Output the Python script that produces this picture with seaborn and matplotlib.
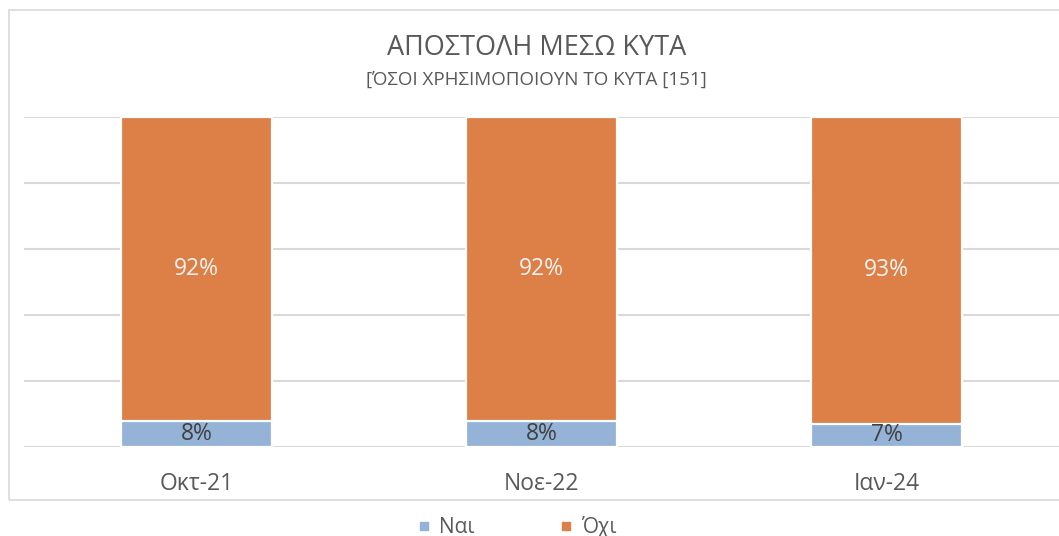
import matplotlib
matplotlib.use("Agg")
import matplotlib.pyplot as plt
import seaborn as sns
import pandas as pd
from matplotlib.patches import Rectangle
from matplotlib.lines import Line2D

categories = ["Οκτ-21", "Νοε-22", "Ιαν-24"]
nai = [8, 8, 7]
oxi = [92, 92, 93]
series_names = ["Ναι", "Όχι"]
title = "ΑΠΟΣΤΟΛΗ ΜΕΣΩ ΚΥΤΑ"
subtitle = "[ΌΣΟΙ ΧΡΗΣΙΜΟΠΟΙΟΥΝ ΤΟ ΚΥΤΑ [151]"

BLUE = "#95B3D7"
ORANGE = "#DD8047"
TXT = "#595959"
GRID = "#D9D9D9"

sns.set_theme(style="white")
plt.rcParams["font.family"] = ["Open Sans", "DejaVu Sans"]

df = pd.DataFrame({"cat": categories, "nai": nai, "oxi": oxi})
df["total"] = df["nai"] + df["oxi"]

W, H = 1059, 536
fig = plt.figure(figsize=(W / 100, H / 100), dpi=100)
ax = fig.add_axes([24 / W, (H - 447) / H, (W - 24) / W, (447 - 117) / H])

# orange (stacked top) drawn as total, blue drawn over bottom
sns.barplot(data=df, x="cat", y="total", color=ORANGE, saturation=1, width=0.44,
            edgecolor="white", linewidth=1.6, ax=ax, zorder=3)
sns.barplot(data=df, x="cat", y="nai", color=BLUE, saturation=1, width=0.44,
            edgecolor="white", linewidth=1.6, ax=ax, zorder=4)

ax.set_ylim(0, 100)
ax.set_xlim(-0.5, 2.5)
ax.set_yticks([0, 20, 40, 60, 80, 100])
ax.set_yticklabels([])
ax.tick_params(axis="y", length=0)
ax.yaxis.grid(True, color=GRID, linewidth=1.5)
ax.set_axisbelow(True)
for s in ax.spines.values():
    s.set_visible(False)
ax.set_xlabel("")
ax.set_ylabel("")
ax.tick_params(axis="x", length=0, pad=18, labelsize=16.5, labelcolor=TXT)

for i in range(len(categories)):
    ax.text(i, nai[i] / 2, f"{nai[i]}%", ha="center", va="center",
            fontsize=16.5, color="#404040", zorder=5)
    ax.text(i, nai[i] + oxi[i] / 2, f"{oxi[i]}%", ha="center", va="center",
            fontsize=16.5, color="#F2F2F2", zorder=5)

fig.text(537 / W, 1 - 48 / H, title, ha="center", va="center",
         fontsize=19.5, color=TXT)
fig.text(536 / W, 1 - 80 / H, subtitle, ha="center", va="center",
         fontsize=13.5, color=TXT)

fig.patches.append(Rectangle((8.5 / W, (H - 500) / H), 1.1, (500 - 9.5) / H,
                             transform=fig.transFigure, fill=False,
                             edgecolor=GRID, linewidth=1.2))

handles = [Line2D([], [], marker="s", linestyle="", markersize=6,
                  color=BLUE, label=series_names[0]),
           Line2D([], [], marker="s", linestyle="", markersize=6,
                  color=ORANGE, label=series_names[1])]
fig.legend(handles=handles, loc="center", bbox_to_anchor=(516 / W, 1 - 527 / H),
           ncol=2, frameon=False, fontsize=15, labelcolor=TXT,
           handletextpad=0.3, columnspacing=4.0, handlelength=0.8,
           borderpad=0, borderaxespad=0)

fig.savefig("out.png", dpi=100)
